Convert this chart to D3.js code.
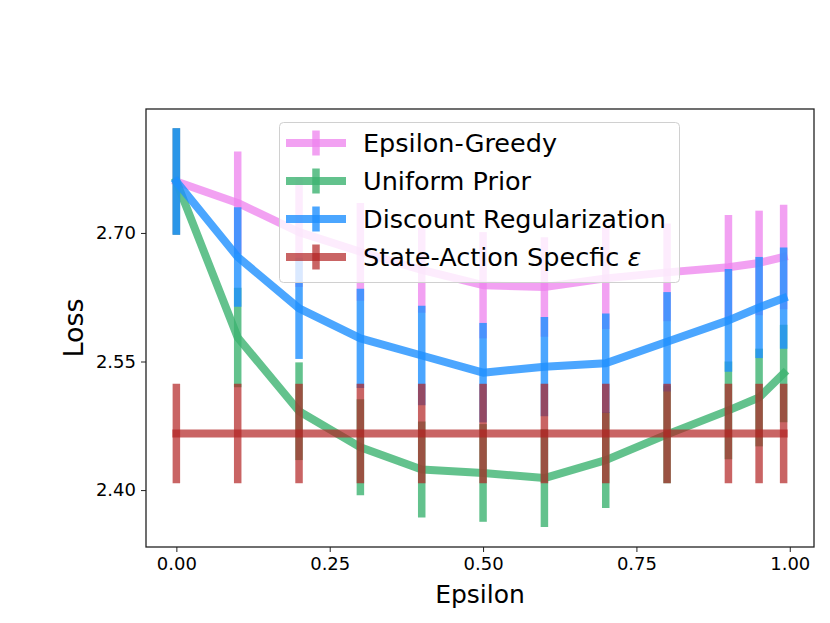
<!DOCTYPE html>
<html>
<head>
<meta charset="utf-8">
<script src="https://cdn.jsdelivr.net/npm/d3@7"></script>
<style>
  html, body { margin: 0; padding: 0; background: #fff; }
  svg { display: block; font-family: "DejaVu Sans", sans-serif; }
</style>
</head>
<body>
<svg id="chart" width="830" height="623"></svg>
<script>
// ---- data ----
const epsilons = [0, 0.1, 0.2, 0.3, 0.4, 0.5, 0.6, 0.7, 0.8, 0.9, 0.95, 0.99];

const seriesNames = ["Epsilon-Greedy", "Uniform Prior", "Discount Regularization", "State-Action Specfic ε"];

const greedyMean = [2.760, 2.735, 2.701, 2.678, 2.657, 2.639, 2.637, 2.647, 2.654, 2.660, 2.665, 2.672];
const greedyErr  = [0.062, 0.060, 0.064, 0.057, 0.050, 0.062, 0.058, 0.059, 0.057, 0.061, 0.061, 0.061];

const uniformMean = [2.760, 2.578, 2.492, 2.450, 2.424, 2.420, 2.414, 2.435, 2.465, 2.493, 2.508, 2.536];
const uniformErr  = [0.062, 0.058, 0.057, 0.056, 0.056, 0.057, 0.057, 0.056, 0.057, 0.057, 0.057, 0.057];

const discountMean = [2.760, 2.672, 2.612, 2.577, 2.557, 2.537, 2.544, 2.548, 2.573, 2.598, 2.613, 2.624];
const discountErr  = [0.062, 0.058, 0.059, 0.058, 0.058, 0.058, 0.058, 0.058, 0.058, 0.060, 0.059, 0.059];

const stateActionMean = [2.466, 2.466, 2.466, 2.466, 2.466, 2.466, 2.466, 2.466, 2.466, 2.466, 2.466, 2.466];
const stateActionErr  = [0.058, 0.058, 0.058, 0.058, 0.058, 0.058, 0.058, 0.058, 0.058, 0.058, 0.058, 0.058];

const xTicks = [0, 0.25, 0.5, 0.75, 1.0];
const yTicks = [2.40, 2.55, 2.70];

// ---- styles ----
const colors = ["violet", "mediumseagreen", "dodgerblue", "firebrick"];
const alphas = [0.75, 0.8, 0.8, 0.7];

const series = [
  { name: seriesNames[0], mean: greedyMean, err: greedyErr },
  { name: seriesNames[1], mean: uniformMean, err: uniformErr },
  { name: seriesNames[2], mean: discountMean, err: discountErr },
  { name: seriesNames[3], mean: stateActionMean, err: stateActionErr }
];

const svg = d3.select("#chart");
const L = 146, R = 814, T = 109, B = 547;

const x = d3.scaleLinear().domain([-0.0495, 1.0395]).range([L, R]);
const y = d3.scaleLinear().domain([2.3336, 2.8446]).range([B, T]);

svg.append("rect").attr("width", 830).attr("height", 623).attr("fill", "#fff");

// series
const line = d3.line().x((d, i) => x(epsilons[i])).y(d => y(d));
series.forEach((s, k) => {
  const g = svg.append("g");
  g.append("path")
    .attr("d", line(s.mean))
    .attr("fill", "none")
    .attr("stroke", colors[k])
    .attr("stroke-opacity", alphas[k])
    .attr("stroke-width", 8)
    .attr("stroke-linejoin", "round")
    .attr("stroke-linecap", "square");
  g.selectAll("line.err").data(s.mean).enter().append("line")
    .attr("class", "err")
    .attr("x1", (d, i) => x(epsilons[i]))
    .attr("x2", (d, i) => x(epsilons[i]))
    .attr("y1", (d, i) => y(d + s.err[i]))
    .attr("y2", (d, i) => y(d - s.err[i]))
    .attr("stroke", colors[k])
    .attr("stroke-opacity", alphas[k])
    .attr("stroke-width", 7.5);
});

// axes
const xAxis = d3.axisBottom(x).tickValues(xTicks).tickFormat(d3.format(".2f")).tickSize(5).tickPadding(5);
const yAxis = d3.axisLeft(y).tickValues(yTicks).tickFormat(d3.format(".2f")).tickSize(5).tickPadding(5);

const gx = svg.append("g").attr("transform", `translate(0,${B})`).call(xAxis);
const gy = svg.append("g").attr("transform", `translate(${L},0)`).call(yAxis);
[gx, gy].forEach(g => {
  g.select(".domain").remove();
  g.selectAll(".tick line").attr("stroke", "#222").attr("stroke-width", 1);
  g.selectAll(".tick text").attr("fill", "#000").attr("font-size", 18).attr("font-family", "DejaVu Sans");
});

// frame
svg.append("rect")
  .attr("x", L).attr("y", T).attr("width", R - L).attr("height", B - T)
  .attr("fill", "none").attr("stroke", "#222").attr("stroke-width", 1.3);

// axis labels
svg.append("text")
  .attr("x", (L + R) / 2).attr("y", 603)
  .attr("text-anchor", "middle").attr("font-size", 25).attr("fill", "#000")
  .text("Epsilon");
svg.append("text")
  .attr("transform", `translate(83,${(T + B) / 2}) rotate(-90)`)
  .attr("text-anchor", "middle").attr("font-size", 27).attr("fill", "#000")
  .text("Loss");

// legend
const lg = svg.append("g");
lg.append("rect")
  .attr("x", 279.5).attr("y", 122.5).attr("width", 400).attr("height", 160)
  .attr("rx", 4).attr("fill", "#fff").attr("fill-opacity", 0.8)
  .attr("stroke", "#d0d0d0").attr("stroke-width", 1);
const rowY = [143, 181, 219, 257];
series.forEach((s, k) => {
  const gy0 = rowY[k];
  lg.append("line")
    .attr("x1", 290).attr("x2", 342).attr("y1", gy0).attr("y2", gy0)
    .attr("stroke", colors[k]).attr("stroke-opacity", alphas[k])
    .attr("stroke-width", 8).attr("stroke-linecap", "square");
  lg.append("line")
    .attr("x1", 316).attr("x2", 316).attr("y1", gy0 - 12.5).attr("y2", gy0 + 12.5)
    .attr("stroke", colors[k]).attr("stroke-opacity", alphas[k])
    .attr("stroke-width", 7.5);
  const t = lg.append("text")
    .attr("x", 363).attr("y", gy0 + 9)
    .attr("font-size", 25.5).attr("fill", "#000");
  if (s.name.endsWith("ε")) {
    t.append("tspan").text(s.name.slice(0, -1));
    t.append("tspan").attr("font-style", "italic").text("ε");
  } else {
    t.text(s.name);
  }
});
</script>
</body>
</html>
